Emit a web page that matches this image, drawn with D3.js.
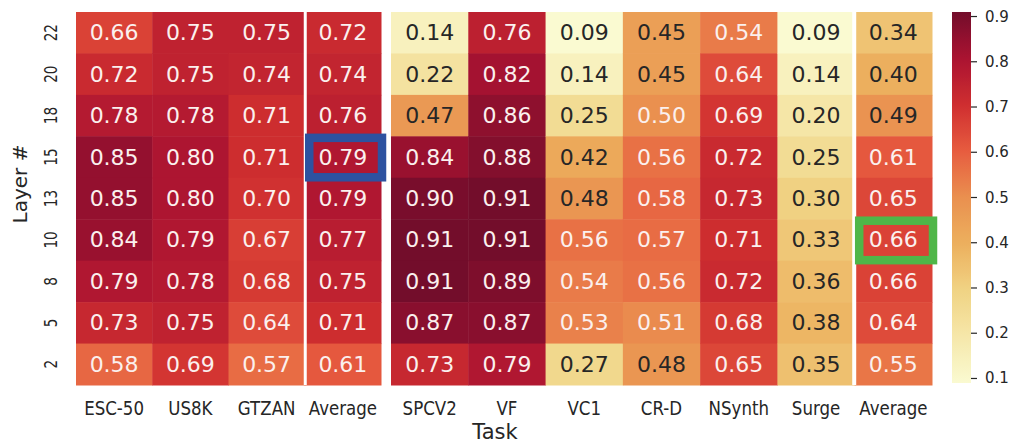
<!DOCTYPE html>
<html>
<head>
<meta charset="utf-8">
<script src="https://cdn.jsdelivr.net/npm/d3@7"></script>
<style>
  html, body { margin: 0; padding: 0; background: #ffffff; }
  svg { display: block; font-family: "DejaVu Sans", sans-serif; }
</style>
</head>
<body>
<svg id="chart" width="1013" height="444"></svg>
<script>
// Layer indices, top row first
const layers = ["22", "20", "18", "15", "13", "10", "8", "5", "2"];

// Audio tasks (left block)
const audioTasks = ["ESC-50", "US8K", "GTZAN", "Average"];
const esc50   = [0.66, 0.72, 0.78, 0.85, 0.85, 0.84, 0.79, 0.73, 0.58];
const us8k    = [0.75, 0.75, 0.78, 0.80, 0.80, 0.79, 0.78, 0.75, 0.69];
const gtzan   = [0.75, 0.74, 0.71, 0.71, 0.70, 0.67, 0.68, 0.64, 0.57];
const audioAvg = [0.72, 0.74, 0.76, 0.79, 0.79, 0.77, 0.75, 0.71, 0.61];

// Speech / music tasks (right block)
const speechTasks = ["SPCV2", "VF", "VC1", "CR-D", "NSynth", "Surge", "Average"];
const spcv2   = [0.14, 0.22, 0.47, 0.84, 0.90, 0.91, 0.91, 0.87, 0.73];
const vf      = [0.76, 0.82, 0.86, 0.88, 0.91, 0.91, 0.89, 0.87, 0.79];
const vc1     = [0.09, 0.14, 0.25, 0.42, 0.48, 0.56, 0.54, 0.53, 0.27];
const crd     = [0.45, 0.45, 0.50, 0.56, 0.58, 0.57, 0.56, 0.51, 0.48];
const nsynth  = [0.54, 0.64, 0.69, 0.72, 0.73, 0.71, 0.72, 0.68, 0.65];
const surge   = [0.09, 0.14, 0.20, 0.25, 0.30, 0.33, 0.36, 0.38, 0.35];
const speechAvg = [0.34, 0.40, 0.49, 0.61, 0.65, 0.66, 0.66, 0.64, 0.55];

const colorbarTicks = [0.1, 0.2, 0.3, 0.4, 0.5, 0.6, 0.7, 0.8, 0.9];

// Highlighted cells: block, column index, layer
const highlights = [
  { block: "audio", col: 3, layer: "15", color: "#2d52a0" },
  { block: "speech", col: 6, layer: "10", color: "#4fb648" }
];

const audioCols = [esc50, us8k, gtzan, audioAvg];
const speechCols = [spcv2, vf, vc1, crd, nsynth, surge, speechAvg];

const allValues = audioCols.concat(speechCols).flat();
const vmin = d3.min(allValues), vmax = d3.max(allValues);

// YlOrRd, 9-class ColorBrewer ramp, interpolated linearly
const ylorrd = ["#ffffcc", "#ffeda0", "#fed976", "#feb24c", "#fd8d3c",
                "#fc4e2a", "#e31a1c", "#bd0026", "#800026"];
const ramp = d3.scaleLinear()
  .domain(ylorrd.map((_, i) => vmin + i * (vmax - vmin) / (ylorrd.length - 1)))
  .range(ylorrd)
  .interpolate(d3.interpolateRgb)
  .clamp(true);

// Slightly muted rendering of the ramp
function color(v) {
  const c = d3.hsl(ramp(v));
  c.s *= 0.8;
  return c.formatHex();
}

function luminance(c) {
  const rgb = d3.rgb(c);
  const lin = v => { v /= 255; return v <= 0.03928 ? v / 12.92 : Math.pow((v + 0.055) / 1.055, 2.4); };
  return 0.2126 * lin(rgb.r) + 0.7152 * lin(rgb.g) + 0.0722 * lin(rgb.b);
}

const svg = d3.select("#chart");
const ink = "#262626";

const gridTop = 12, gridBottom = 385;
const y = d3.scaleBand().domain(layers).range([gridTop, gridBottom]);
const xAudio = d3.scaleBand().domain(d3.range(audioTasks.length)).range([76, 381]);
const xSpeech = d3.scaleBand().domain(d3.range(speechTasks.length)).range([391, 932]);

function drawBlock(name, x, tasks, cols) {
  const g = svg.append("g").attr("class", name);
  const cells = [];
  cols.forEach((vals, ci) => vals.forEach((v, ri) => cells.push({ ci, layer: layers[ri], v })));

  g.selectAll("rect.cell").data(cells).join("rect")
    .attr("class", "cell")
    .attr("x", d => x(d.ci))
    .attr("y", d => y(d.layer))
    .attr("width", x.bandwidth() + 0.5)
    .attr("height", y.bandwidth() + 0.5)
    .attr("fill", d => color(d.v));

  g.selectAll("text.val").data(cells).join("text")
    .attr("class", "val")
    .attr("x", d => x(d.ci) + x.bandwidth() / 2)
    .attr("y", d => y(d.layer) + y.bandwidth() / 2)
    .attr("text-anchor", "middle")
    .attr("dominant-baseline", "central")
    .attr("font-size", 22)
    .attr("fill", d => luminance(ramp(d.v)) > 0.408 ? ink : "#fbf0ee")
    .text(d => d3.format(".2f")(d.v));

  // Separator before the block's "Average" column
  const sepX = x(tasks.length - 1);
  g.append("rect")
    .attr("x", sepX - 1.5 + (name === "speech" ? -1 : 0.5))
    .attr("y", gridTop)
    .attr("width", name === "speech" ? 4 : 3)
    .attr("height", gridBottom - gridTop)
    .attr("fill", "#ffffff");

  // Column labels
  g.selectAll("text.tick").data(tasks).join("text")
    .attr("class", "tick")
    .attr("transform", (d, i) => `translate(${x(i) + x.bandwidth() / 2},415) scale(0.875,1)`)
    .attr("text-anchor", "middle")
    .attr("font-size", 19)
    .attr("fill", ink)
    .text(d => d);
}

drawBlock("audio", xAudio, audioTasks, audioCols);
drawBlock("speech", xSpeech, speechTasks, speechCols);

// Highlight boxes
highlights.forEach(h => {
  const x = h.block === "audio" ? xAudio : xSpeech;
  const x0 = x(h.col), x1 = x0 + x.bandwidth();
  const y0 = y(h.layer), y1 = y0 + y.bandwidth();
  svg.append("rect")
    .attr("x", x0 + 4.5)
    .attr("y", y0 + 1.5)
    .attr("width", (x1 + 1) - (x0 + 4.5))
    .attr("height", (y1 - 0.5) - (y0 + 1.5))
    .attr("fill", "none")
    .attr("stroke", h.color)
    .attr("stroke-width", 8.5);
});

// Layer tick labels
svg.append("g").selectAll("text").data(layers).join("text")
  .attr("transform", d => `translate(57,${y(d) + y.bandwidth() / 2}) rotate(-90) scale(0.8,1)`)
  .attr("text-anchor", "middle")
  .attr("font-size", 17)
  .attr("fill", ink)
  .text(d => d);

// Axis titles
svg.append("text")
  .attr("transform", "translate(27,184) rotate(-90)")
  .attr("text-anchor", "middle")
  .attr("font-size", 20)
  .attr("fill", ink)
  .text("Layer #");

svg.append("text")
  .attr("x", 495)
  .attr("y", 439)
  .attr("text-anchor", "middle")
  .attr("font-size", 21)
  .attr("fill", ink)
  .text("Task");

// Colorbar
const cbX = 952, cbW = 19, cbTop = 12, cbBottom = 383;
const cbScale = d3.scaleLinear().domain([vmin, vmax]).range([cbBottom, cbTop]);
const grad = svg.append("defs").append("linearGradient")
  .attr("id", "cbGrad").attr("x1", 0).attr("y1", 1).attr("x2", 0).attr("y2", 0);
d3.range(0, 1.0001, 1 / 40).forEach(t => {
  grad.append("stop").attr("offset", t).attr("stop-color", color(vmin + t * (vmax - vmin)));
});
svg.append("rect")
  .attr("x", cbX).attr("y", cbTop)
  .attr("width", cbW).attr("height", cbBottom - cbTop)
  .attr("fill", "url(#cbGrad)");

const cbAxis = svg.append("g").selectAll("g").data(colorbarTicks).join("g")
  .attr("transform", d => `translate(${cbX + cbW},${cbScale(d)})`);
cbAxis.append("line").attr("x1", 0).attr("x2", 6).attr("stroke", ink).attr("stroke-width", 1.2);
cbAxis.append("text")
  .attr("x", 14)
  .attr("dominant-baseline", "central")
  .attr("font-size", 15)
  .attr("fill", ink)
  .text(d => d3.format(".1f")(d));
</script>
</body>
</html>
